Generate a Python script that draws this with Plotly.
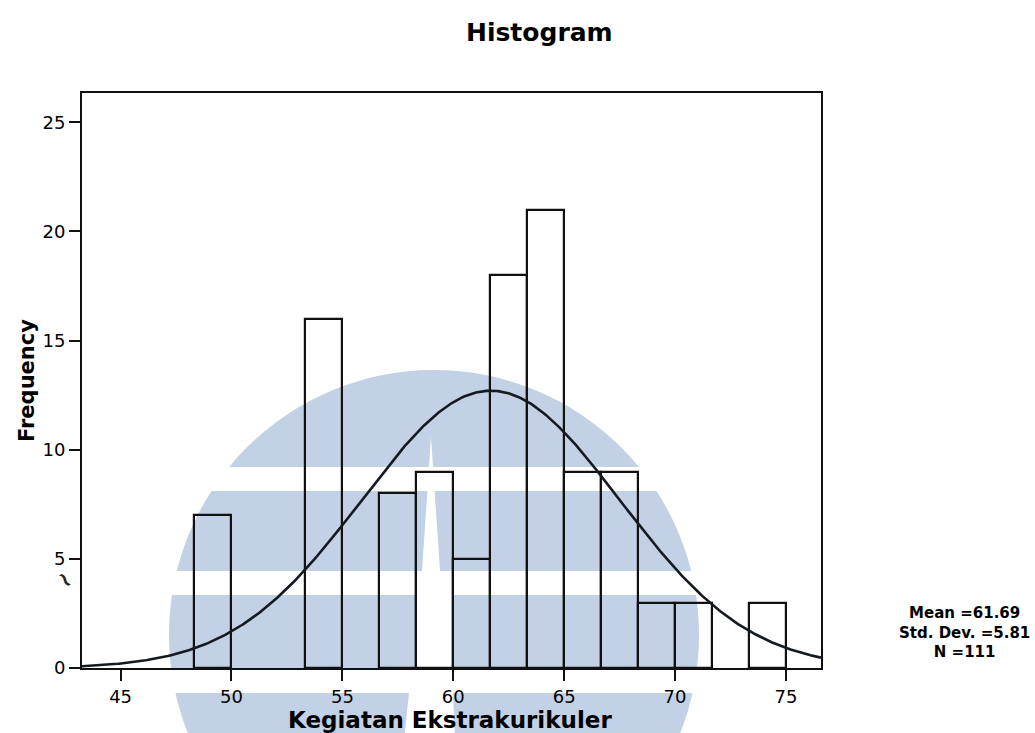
import numpy as np
import plotly.graph_objects as go

# Histogram data: lower edge of each bin (width 5/3) and its count
bin_width = 5 / 3
bin_lower = [48.33, 50.0, 51.67, 53.33, 55.0, 56.67, 58.33, 60.0,
             61.67, 63.33, 65.0, 66.67, 68.33, 70.0, 71.67, 73.33]
frequency = [7, 0, 0, 16, 0, 8, 9, 5, 18, 21, 9, 9, 3, 3, 0, 3]

# Summary statistics
mean_value = 61.69
std_dev = 5.81
n_cases = 111

x_ticks = [45, 50, 55, 60, 65, 70, 75]
y_ticks = [0, 5, 10, 15, 20, 25]
x_range = [43.26, 76.58]
y_range = [0, 26.34]

# Figure geometry (pixels)
W, H = 1035, 733
ML, MR, MT, MB = 82, 214, 93, 65
PW, PH = W - ML - MR, H - MT - MB


def px(x):
    return (x - ML) / PW


def py(y):
    return (H - MB - y) / PH


fig = go.Figure()

# Bars (outlined, see-through)
centers = [lo + bin_width / 2 for lo, f in zip(bin_lower, frequency) if f > 0]
counts = [f for f in frequency if f > 0]
fig.add_trace(go.Bar(
    x=centers, y=counts, width=bin_width,
    marker=dict(color="rgba(0,0,0,0)", line=dict(color="#111111", width=2.2)),
    showlegend=False, hoverinfo="skip",
))

# Fitted normal curve scaled to counts
xs = np.linspace(x_range[0], x_range[1], 500)
ys = n_cases * bin_width * np.exp(-0.5 * ((xs - mean_value) / std_dev) ** 2) / (std_dev * np.sqrt(2 * np.pi))
fig.add_trace(go.Scatter(
    x=xs, y=ys, mode="lines", line=dict(color="#151a22", width=2.6),
    showlegend=False, hoverinfo="skip",
))

# Background emblem: striped disc with a central wedge cut out
emblem = "#c2d1e5"
cx, cy, r = 434, 635, 265
shapes = [dict(type="circle", xref="paper", yref="paper", layer="below",
               x0=px(cx - r), x1=px(cx + r), y0=py(cy + r), y1=py(cy - r),
               fillcolor=emblem, line=dict(width=0))]
for y0, y1 in [(467, 491), (571, 595), (668, 693)]:
    shapes.append(dict(type="rect", xref="paper", yref="paper", layer="below",
                       x0=px(140), x1=px(730), y0=py(y1), y1=py(y0),
                       fillcolor="white", line=dict(width=0)))
wedge = [(431, 437), (422, 571), (416, 595), (416, 668), (409, 693), (404, 740),
         (455, 740), (453, 693), (453, 595), (440, 571)]
path = "M " + " L ".join(f"{px(x):.5f},{py(y):.5f}" for x, y in wedge) + " Z"
shapes.append(dict(type="path", xref="paper", yref="paper", layer="below",
                   path=path, fillcolor="white", line=dict(width=0)))

annotations = [
    dict(text="Histogram", x=px(539), y=py(32), xref="paper", yref="paper",
         showarrow=False, xanchor="center", yanchor="middle",
         font=dict(family="DejaVu Sans", size=25, color="black", weight="bold")),
    dict(text="Frequency", x=px(27), y=py(381), xref="paper", yref="paper",
         showarrow=False, xanchor="center", yanchor="middle", textangle=-90,
         font=dict(family="DejaVu Sans", size=21, color="black", weight="bold")),
    dict(text="Kegiatan Ekstrakurikuler", x=px(450), y=py(720), xref="paper", yref="paper",
         showarrow=False, xanchor="center", yanchor="middle",
         font=dict(family="DejaVu Sans", size=23, color="black", weight="bold")),
    dict(text=f"Mean ={mean_value:.2f}<br>Std. Dev. ={std_dev:.2f}<br>N ={n_cases}",
         x=px(964), y=py(632), xref="paper", yref="paper", align="center",
         showarrow=False, xanchor="center", yanchor="middle",
         font=dict(family="DejaVu Sans", size=15, color="black", weight="bold")),
    dict(text="~", x=px(47), y=py(597), xref="paper", yref="paper",
         showarrow=False, textangle=55,
         font=dict(family="DejaVu Sans", size=22, color="#222222", weight="bold")),
]

axis_common = dict(showgrid=False, zeroline=False, showline=True, linecolor="#111111",
                   linewidth=2, mirror=True, ticks="outside", ticklen=11, tickwidth=2,
                   tickcolor="#111111",
                   tickfont=dict(family="DejaVu Sans", size=18, color="black"))

fig.update_layout(
    width=W, height=H,
    margin=dict(l=ML, r=MR, t=MT, b=MB, pad=0),
    paper_bgcolor="white", plot_bgcolor="rgba(0,0,0,0)",
    xaxis=dict(range=x_range, tickvals=x_ticks, **axis_common),
    yaxis=dict(range=y_range, tickvals=y_ticks, **axis_common),
    bargap=0, shapes=shapes, annotations=annotations,
)

fig.write_html("out.html")
